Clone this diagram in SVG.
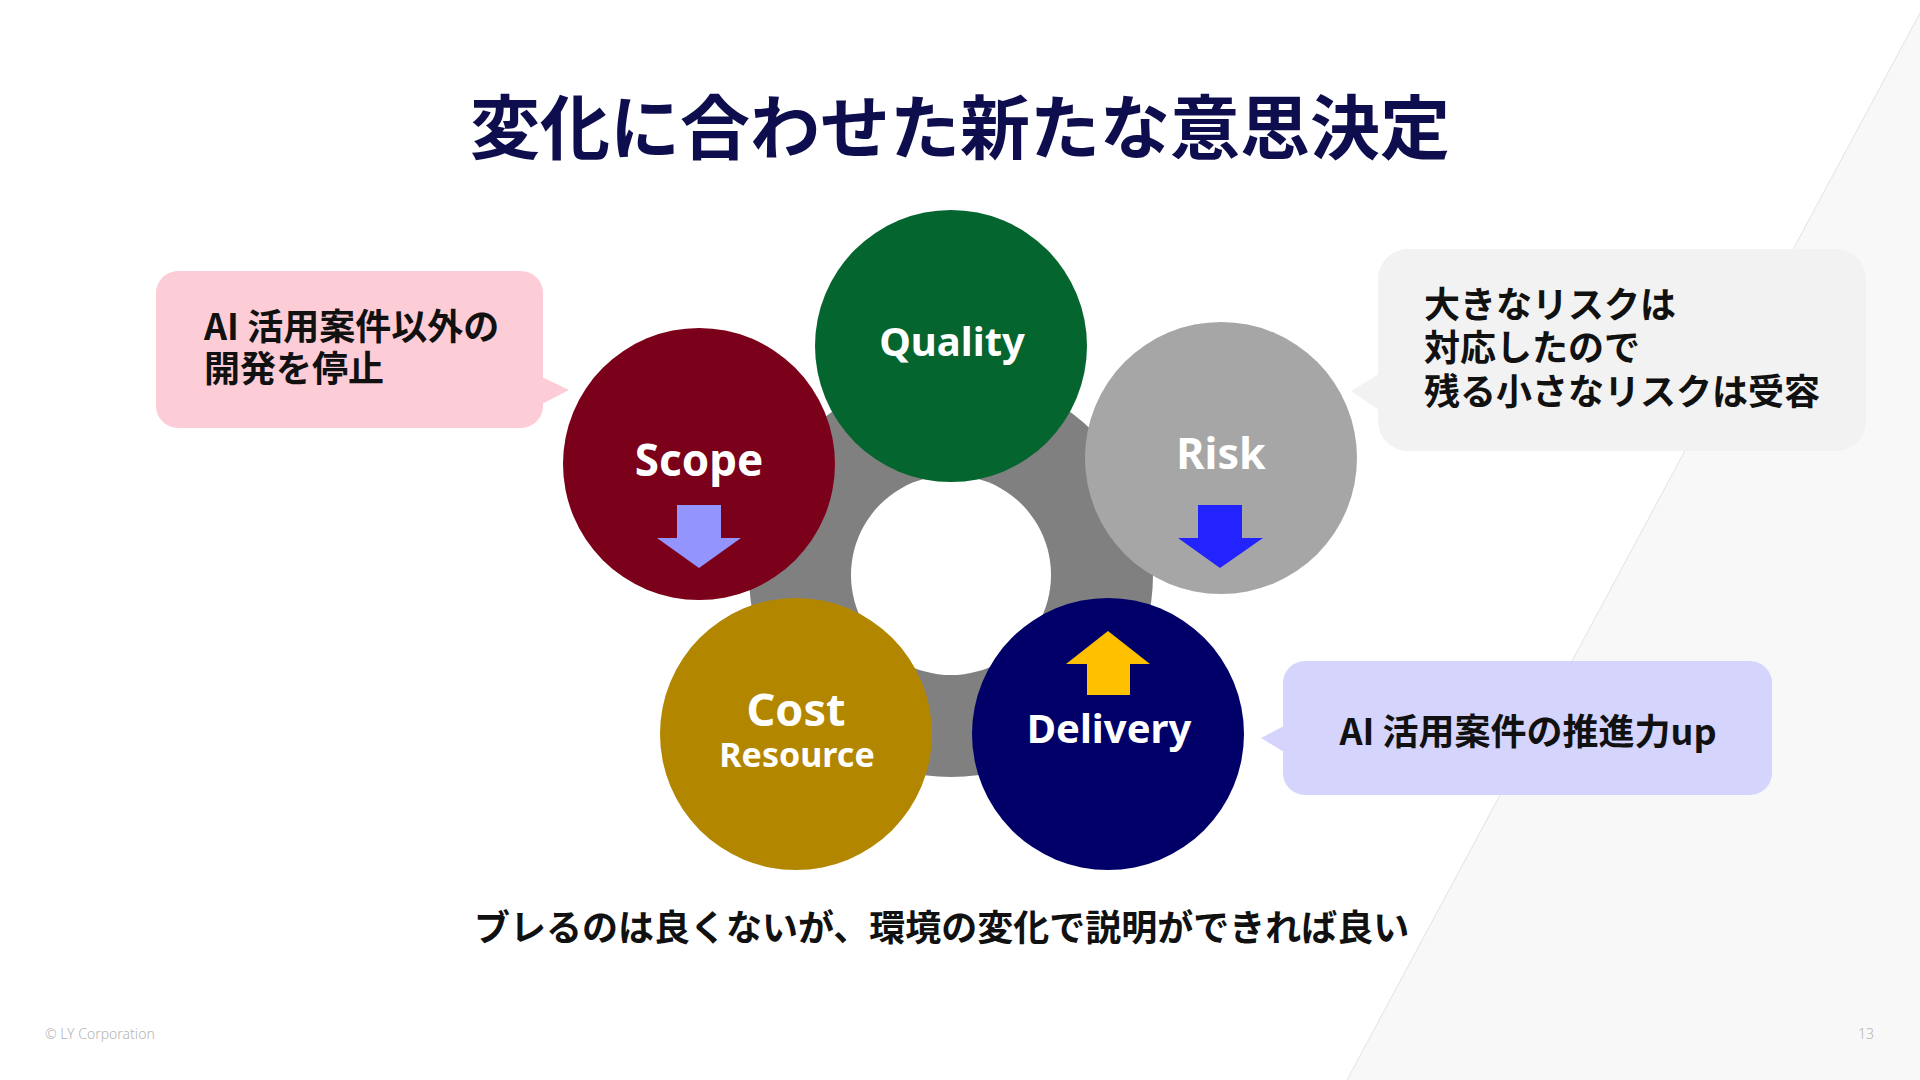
<svg xmlns="http://www.w3.org/2000/svg" width="1920" height="1080" viewBox="0 0 1920 1080">
  <style>
    .title { font-family: "Noto Sans CJK JP", "Noto Sans", sans-serif; font-weight: 700; font-size: 70px; fill: #0e0e4e; }
    .jp { font-family: "Noto Sans CJK JP", "Noto Sans", sans-serif; font-weight: 700; font-size: 36px; fill: #111111; }
    .lbl { font-family: "Noto Sans", "Liberation Sans", sans-serif; font-weight: 700; fill: #ffffff; text-anchor: middle; }
    .foot { font-family: "Noto Sans", "Liberation Sans", sans-serif; font-weight: 300; font-size: 14px; fill: #b4b4b4; }
  </style>
  <rect x="0" y="0" width="1920" height="1080" fill="#ffffff"/>
  <polygon points="1927,0 1920,0 1920,1080 1347,1080" fill="#f8f8f8"/>
  <line x1="1927" y1="0" x2="1347" y2="1080" stroke="#e2e2e2" stroke-width="1"/>

  <text class="title" x="960" y="154" text-anchor="middle">変化に合わせた新たな意思決定</text>

  <g id="connectors"/>

  <g id="ring">
    <path d="M951,373 a202,202 0 1,0 0.01,0 Z M951,475 a100,100 0 1,1 -0.01,0 Z" fill="#808080" fill-rule="evenodd"/>
  </g>

  <g id="scope">
    <circle cx="699" cy="464" r="136" fill="#7b0019"/>
    <text class="lbl" x="699" y="476" font-size="44">Scope</text>
    <rect x="677" y="505" width="44" height="34" fill="#9494ff"/>
    <polygon points="657,538 741,538 699,568" fill="#9494ff"/>
  </g>

  <g id="quality">
    <circle cx="951" cy="346" r="136" fill="#05652f"/>
    <text class="lbl" x="952" y="356" font-size="40">Quality</text>
  </g>

  <g id="risk">
    <circle cx="1221" cy="458" r="136" fill="#a6a6a6"/>
    <text class="lbl" x="1221" y="469" font-size="43">Risk</text>
    <rect x="1198" y="505" width="44" height="34" fill="#2323ff"/>
    <polygon points="1178,538 1263,538 1220,568" fill="#2323ff"/>
  </g>

  <g id="cost">
    <circle cx="796" cy="734" r="136" fill="#b38600"/>
    <text class="lbl" x="796" y="726" font-size="45">Cost</text>
    <text class="lbl" x="797" y="767" font-size="34">Resource</text>
  </g>

  <g id="delivery">
    <circle cx="1108" cy="734" r="136" fill="#000068"/>
    <polygon points="1108,631 1150,664 1066,664" fill="#ffc000"/>
    <rect x="1087" y="663" width="43" height="32" fill="#ffc000"/>
    <text class="lbl" x="1109" y="743" font-size="40">Delivery</text>
  </g>

  <g id="callout-scope">
    <rect x="156" y="271" width="387" height="157" rx="22" fill="#fccdd6"/>
    <polygon points="542,377 569,390 542,404" fill="#fccdd6"/>
    <text class="jp" x="204" y="340">AI 活用案件以外の</text>
    <text class="jp" x="204" y="382">開発を停止</text>
  </g>

  <g id="callout-risk">
    <rect x="1378" y="249" width="488" height="202" rx="30" fill="#f2f2f2"/>
    <polygon points="1379,374 1351,391 1379,410" fill="#f2f2f2"/>
    <text class="jp" x="1424" y="318">大きなリスクは</text>
    <text class="jp" x="1424" y="361">対応したので</text>
    <text class="jp" x="1424" y="405">残る小さなリスクは受容</text>
  </g>

  <g id="callout-delivery">
    <rect x="1283" y="661" width="489" height="134" rx="22" fill="#d4d4fc"/>
    <polygon points="1284,726 1261,738 1284,752" fill="#d4d4fc"/>
    <text class="jp" x="1528" y="745" text-anchor="middle">AI 活用案件の推進力up</text>
  </g>

  <text class="jp" x="474" y="941">ブレるのは良くないが、環境の変化で説明ができれば良い</text>

  <text class="foot" x="45" y="1039">© LY Corporation</text>
  <text class="foot" x="1858" y="1039" font-size="12">13</text>
</svg>
